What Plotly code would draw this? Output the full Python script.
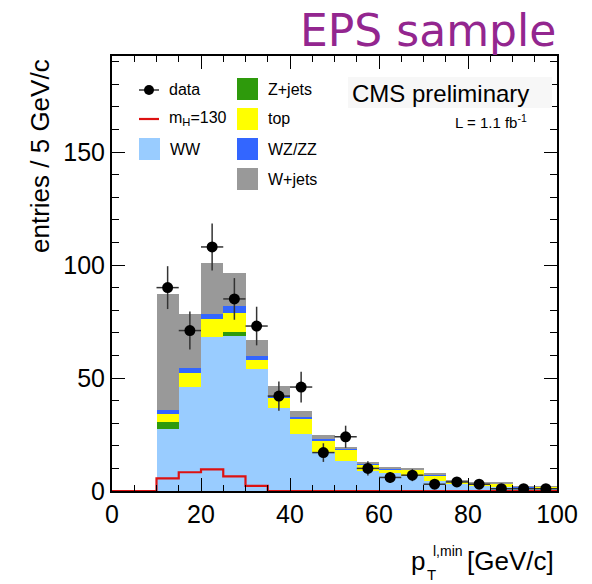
import numpy as np
import plotly.graph_objects as go

# ---------------- data ----------------
bin_low = [10, 15, 20, 25, 30, 35, 40, 45, 50, 55, 60, 65, 70, 75, 80, 85, 90, 95]
bin_width = 5

ww    = [27.3, 46.2, 68.3, 68.6, 53.8, 36.9, 25.2, 17.4, 13.3, 8.8, 7.8, 6.5, 4.6, 3.5, 2.2, 1.6, 1.5, 1.2]
zjets = [3.4, 0, 0, 1.9, 0, 0, 0, 0, 0, 0, 0, 0, 0, 0, 0, 0, 0, 0]
top   = [3.3, 5.9, 7.7, 8.4, 4.2, 4.3, 6.7, 4.9, 5.1, 3.0, 1.8, 2.8, 2.2, 0.6, 1.2, 1.5, 0.2, 0.6]
wzzz  = [1.7, 2.3, 2.3, 3.0, 1.9, 1.0, 1.0, 0.7, 0.3, 0.5, 0.2, 0.3, 0.3, 0.1, 0.1, 0.1, 0.1, 0.1]
wjets = [51.7, 23.8, 22.7, 14.4, 6.9, 4.4, 2.5, 1.6, 0.8, 0.7, 0.5, 0.4, 0.7, 0.4, 0.2, 0.5, 0.2, 0.3]
data  = [90, 71, 108, 85, 73, 42, 46, 17, 24, 10, 6, 7, 3, 4, 3, 1, 1, 1]

higgs_edges = [0, 5, 10, 15, 20, 25, 30, 35, 40, 45, 50, 55, 60, 65, 70, 75, 80, 85, 90, 95, 100]
higgs = [0, 0, 5.6, 8.3, 9.6, 6.5, 2.3, 0, 0, 0, 0, 0, 0, 0, 0, 0, 0, 0, 0, 0]

x_ticks = [0, 20, 40, 60, 80, 100]
y_ticks = [0, 50, 100, 150]

# ---------------- styles ----------------
FONT = "Liberation Sans, Arial, Helvetica, sans-serif"
C_WW = "#99CCFF"
C_Z = "#2E9A0C"
C_TOP = "#FFFF00"
C_WZ = "#3366FF"
C_WJ = "#999999"
C_H = "#DD1111"

centers = [b + bin_width / 2 for b in bin_low]

fig = go.Figure()
for vals, col, name in [(ww, C_WW, "WW"), (zjets, C_Z, "Z+jets"), (top, C_TOP, "top"),
                        (wzzz, C_WZ, "WZ/ZZ"), (wjets, C_WJ, "W+jets")]:
    fig.add_trace(go.Bar(x=centers, y=vals, width=bin_width, marker=dict(color=col, line=dict(width=0)),
                         name=name, showlegend=False))

fig.add_trace(go.Scatter(x=higgs_edges, y=higgs + [higgs[-1]], mode="lines", line_shape="hv",
                         line=dict(color=C_H, width=2.2), showlegend=False, cliponaxis=False))

fig.add_trace(go.Scatter(x=centers, y=data, mode="markers",
                         marker=dict(color="black", size=11),
                         error_y=dict(type="data", array=list(np.sqrt(data)), width=0, color="#333333", thickness=1.5),
                         error_x=dict(type="constant", value=bin_width / 2, width=0, color="#333333", thickness=1.5),
                         showlegend=False))

# ---------------- layout ----------------
L, R, T, B = 112, 35, 56, 93
W, H = 592, 584
PW, PH = W - L - R, H - T - B


def px(xp):
    return (xp - L) / PW


def py(yp):
    return (H - B - yp) / PH


fig.update_layout(
    width=W, height=H, autosize=False,
    margin=dict(l=L, r=R, t=T, b=B, pad=0),
    barmode="stack", bargap=0,
    plot_bgcolor="white", paper_bgcolor="white",
    font=dict(family=FONT, color="black"),
    xaxis=dict(range=[0, 100], tickvals=x_ticks, ticks="inside", ticklen=13, tickwidth=1.2, tickcolor="black",
               minor=dict(dtick=5, ticklen=6, ticks="inside", tickcolor="black", tickwidth=1.2),
               showline=True, linewidth=2, linecolor="black", mirror="ticks", showgrid=False, zeroline=False,
               tickfont=dict(size=25, family=FONT)),
    yaxis=dict(range=[0, 192.5], tickvals=y_ticks, ticks="inside", ticklen=13, tickwidth=1.2, tickcolor="black",
               minor=dict(dtick=10, ticklen=7, ticks="inside", tickcolor="black", tickwidth=1.2),
               showline=True, linewidth=2, linecolor="black", mirror="ticks", showgrid=False, zeroline=False,
               tickfont=dict(size=25, family=FONT)),
)

ann = []
shapes = []
# title
ann.append(dict(text="EPS sample", xref="paper", yref="paper", x=px(428), y=py(31), xanchor="center",
                yanchor="middle", showarrow=False, font=dict(size=44, color="#93268F", family="DejaVu Sans")))
# axis titles
ann.append(dict(text="entries / 5 GeV/c", xref="paper", yref="paper", x=px(40), y=py(57), xanchor="center",
                yanchor="top", textangle=-90, showarrow=False, font=dict(size=26)))
ann.append(dict(text="p", xref="paper", yref="paper", x=px(409), y=py(561), xanchor="left", yanchor="middle",
                showarrow=False, font=dict(size=26)))
ann.append(dict(text="T", xref="paper", yref="paper", x=px(425), y=py(574), xanchor="left", yanchor="middle",
                showarrow=False, font=dict(size=15)))
ann.append(dict(text="l,min", xref="paper", yref="paper", x=px(431), y=py(551), xanchor="left", yanchor="middle",
                showarrow=False, font=dict(size=14)))
ann.append(dict(text="[GeV/c]", xref="paper", yref="paper", x=px(556), y=py(561), xanchor="right", yanchor="middle",
                showarrow=False, font=dict(size=26)))

# CMS box
shapes.append(dict(type="rect", xref="paper", yref="paper", x0=px(348), x1=px(552), y0=py(108), y1=py(77),
                   fillcolor="#F7F7F7", line=dict(width=0), layer="above"))
ann.append(dict(text="CMS preliminary", xref="paper", yref="paper", x=px(350), y=py(93), xanchor="left",
                yanchor="middle", showarrow=False, font=dict(size=24)))
ann.append(dict(text="L = 1.1 fb<sup>-1</sup>", xref="paper", yref="paper", x=px(529), y=py(121), xanchor="right",
                yanchor="middle", showarrow=False, font=dict(size=15)))

# legend
LF = 16
# data
shapes.append(dict(type="line", xref="paper", yref="paper", x0=px(139), x1=px(159), y0=py(90), y1=py(90),
                   line=dict(color="#333333", width=1.5), layer="above"))
shapes.append(dict(type="circle", xref="paper", yref="paper", x0=px(144), x1=px(154), y0=py(95), y1=py(85),
                   fillcolor="black", line=dict(width=0), layer="above"))
ann.append(dict(text="data", xref="paper", yref="paper", x=px(167), y=py(90), xanchor="left", yanchor="middle",
                showarrow=False, font=dict(size=LF)))
# higgs
shapes.append(dict(type="line", xref="paper", yref="paper", x0=px(139), x1=px(159), y0=py(119), y1=py(119),
                   line=dict(color=C_H, width=2.2), layer="above"))
ann.append(dict(text="m<sub>H</sub>=130", xref="paper", yref="paper", x=px(167), y=py(119), xanchor="left",
                yanchor="middle", showarrow=False, font=dict(size=LF)))
# boxes
for (x0, y0, col, label) in [(139, 138, C_WW, "WW"), (237, 78, C_Z, "Z+jets"), (237, 108, C_TOP, "top"),
                             (237, 138, C_WZ, "WZ/ZZ"), (237, 168, C_WJ, "W+jets")]:
    shapes.append(dict(type="rect", xref="paper", yref="paper", x0=px(x0), x1=px(x0 + 21), y0=py(y0 + 22),
                       y1=py(y0), fillcolor=col, line=dict(width=0), layer="above"))
    ann.append(dict(text=label, xref="paper", yref="paper", x=px(x0 + 29), y=py(y0 + 11), xanchor="left",
                    yanchor="middle", showarrow=False, font=dict(size=LF)))

fig.update_layout(annotations=ann, shapes=shapes)
fig.write_html("out.html")
